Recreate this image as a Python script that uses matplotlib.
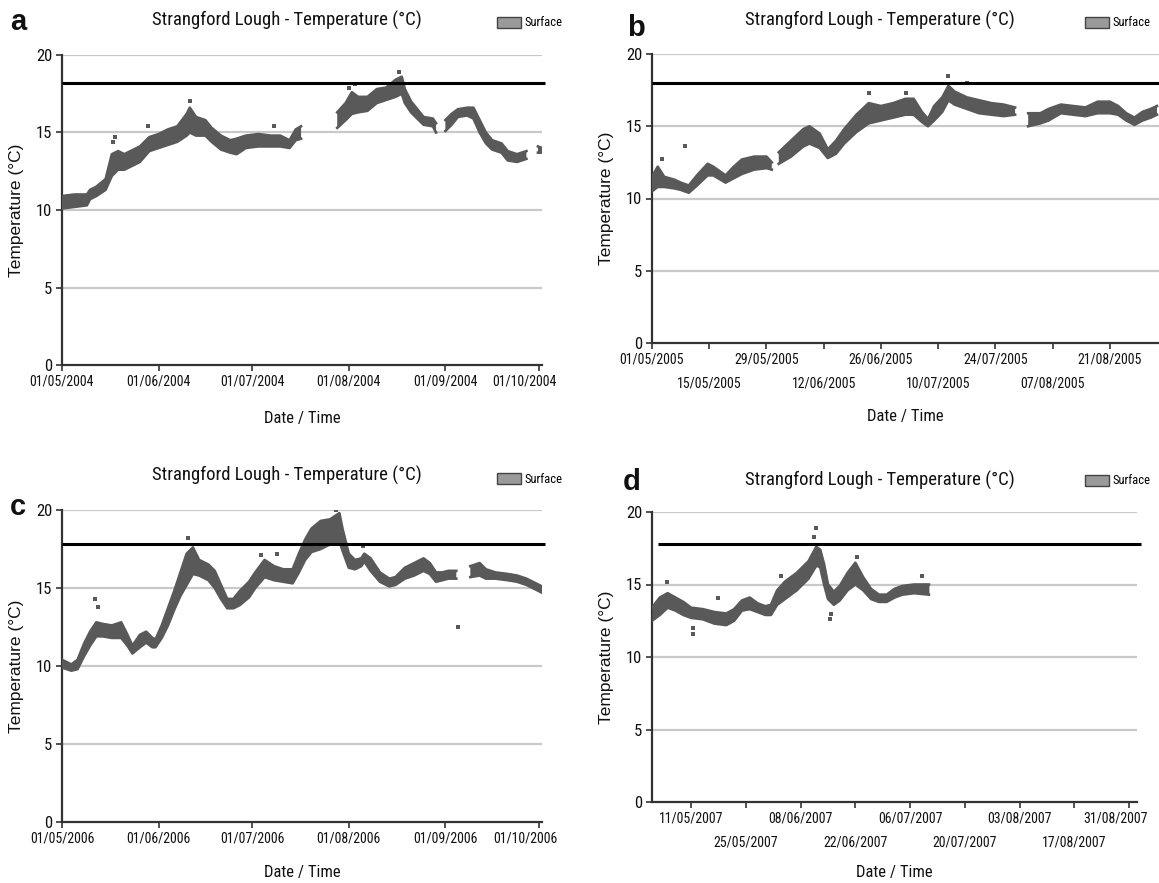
import numpy as np
import matplotlib
matplotlib.use("Agg")
import matplotlib.pyplot as plt
import matplotlib.transforms as mtransforms
from matplotlib.patches import Patch
from matplotlib import font_manager

# ---------------------------------------------------------------------------
# Surface temperature records, Strangford Lough (day offset from 1 May,
# lower / upper edge of the logged readings, NaN marks a logging gap)
# ---------------------------------------------------------------------------
days_2004 = [0, 4, 8, 9, 11, 14, 16, 18, 20, 22, 25, 28, 31, 34, 37, 40, 41, 43, 46, 48,
             51, 54, 56, 59, 63, 67, 70, 73, 75, 76.7, 82,
             88.3, 91, 93, 95, 98, 101, 104, 107, 109, 110, 112, 114, 116, 119, 120, 121.5,
             123, 125, 127, 130, 132, 134, 136, 138, 141, 143, 146, 149, 151,
             152.7, 154]
low_2004 = [10.1, 10.2, 10.3, 10.7, 10.9, 11.3, 12.2, 12.6, 12.6, 12.8, 13.1, 13.8, 14.0, 14.2, 14.4, 14.8, 15.0, 14.8, 14.8, 14.4,
            13.9, 13.7, 13.6, 14.0, 14.1, 14.1, 14.1, 14.0, 14.5, 14.6, np.nan,
            15.3, 15.8, 16.2, 16.3, 16.4, 16.9, 17.1, 17.3, 17.5, 16.9, 16.3, 15.9, 15.5, 15.4, 15.0, np.nan,
            15.1, 15.5, 16.0, 16.1, 15.9, 15.0, 14.3, 13.9, 13.7, 13.2, 13.1, 13.3, np.nan,
            13.7, 13.7]
high_2004 = [10.9, 11.0, 11.0, 11.3, 11.5, 12.0, 13.6, 13.8, 13.6, 13.8, 14.1, 14.7, 14.9, 15.2, 15.4, 16.2, 16.6, 16.0, 15.8, 15.3,
             14.8, 14.5, 14.6, 14.8, 14.9, 14.8, 14.8, 14.5, 15.2, 15.4, np.nan,
             16.3, 16.9, 17.6, 17.3, 17.3, 17.8, 17.9, 18.4, 18.6, 17.8, 17.0, 16.5, 16.0, 15.9, 15.6, np.nan,
             15.8, 16.2, 16.5, 16.6, 16.6, 15.8, 15.0, 14.5, 14.3, 13.8, 13.6, 13.8, np.nan,
             14.1, 14.0]
spike_days_2004 = [16.5, 17, 27.5, 41, 68, 92, 94, 108]
spike_temp_2004 = [14.4, 14.7, 15.4, 17.0, 15.4, 17.9, 18.1, 18.9]

days_2005 = [0, 1.4, 3, 5.5, 7, 9, 11, 13.6, 15, 18, 20, 22, 25, 28, 29.3, 30.2,
             31, 34, 37, 38.5, 41, 43, 45, 47, 50, 53, 56, 59, 62, 64, 66, 67.5, 69, 71, 72.5, 74,
             77, 80, 83, 86, 88.8, 90.5,
             92, 95, 97, 100, 103, 106, 109, 112, 114, 116, 118, 120, 122, 123.5]
low_2005 = [10.5, 10.8, 10.8, 10.7, 10.6, 10.4, 10.9, 11.6, 11.6, 11.1, 11.4, 11.7, 12.0, 12.1, 12.0, np.nan,
            12.4, 12.9, 13.6, 13.8, 13.5, 12.8, 13.1, 13.8, 14.6, 15.2, 15.4, 15.6, 15.8, 15.8, 15.3, 15.0, 15.4, 16.0, 16.8, 16.5,
            16.2, 15.9, 15.8, 15.7, 15.8, np.nan,
            15.0, 15.2, 15.4, 15.9, 15.8, 15.7, 15.9, 15.9, 15.8, 15.4, 15.1, 15.4, 15.6, 15.8]
high_2005 = [11.5, 12.2, 11.5, 11.3, 11.1, 10.9, 11.6, 12.4, 12.2, 11.6, 12.2, 12.7, 12.9, 12.9, 12.5, np.nan,
             13.2, 14.0, 14.8, 15.0, 14.5, 13.4, 14.0, 14.8, 15.8, 16.6, 16.4, 16.6, 16.9, 16.9, 16.0, 15.5, 16.4, 17.0, 17.8, 17.4,
             17.0, 16.8, 16.6, 16.5, 16.3, np.nan,
             15.9, 15.9, 16.2, 16.5, 16.4, 16.3, 16.7, 16.7, 16.4, 15.9, 15.6, 16.0, 16.2, 16.4]
spike_days_2005 = [2.5, 8, 53, 62, 72.5, 77]
spike_temp_2005 = [12.7, 13.6, 17.3, 17.3, 18.5, 18.0]

days_2006 = [0, 3, 5, 7, 9, 11, 13, 16, 19, 21, 22.6, 25, 27, 29, 30, 32, 34, 36, 38, 40,
             42, 44, 47, 49, 51, 53, 55, 57, 60, 62, 65, 68, 71, 74, 76, 78, 80, 83, 86, 89,
             90, 92, 94, 96, 97, 99, 102, 105, 107, 110, 113, 116, 118, 120, 122, 124, 126.5, 128.5,
             131, 134, 136, 139, 143, 146, 149, 152, 154]
low_2006 = [9.9, 9.7, 9.8, 10.6, 11.3, 11.9, 11.9, 11.8, 11.8, 11.3, 10.8, 11.2, 11.5, 11.2, 11.2, 11.8, 12.6, 13.6, 14.5, 15.2,
            15.9, 15.8, 15.5, 15.0, 14.3, 13.7, 13.7, 13.9, 14.4, 15.0, 15.7, 15.5, 15.4, 15.3, 16.0, 16.8, 17.3, 17.5, 17.8, 18.0,
            17.4, 16.3, 16.2, 16.4, 16.7, 16.1, 15.4, 15.1, 15.2, 15.6, 15.8, 16.1, 15.9, 15.4, 15.5, 15.6, 15.6, np.nan,
            15.7, 15.8, 15.6, 15.6, 15.5, 15.4, 15.2, 14.9, 14.7]
high_2006 = [10.4, 10.1, 10.4, 11.4, 12.2, 12.8, 12.7, 12.6, 12.8, 12.0, 11.3, 12.0, 12.2, 11.8, 11.7, 12.6, 13.7, 14.8, 16.0, 17.2,
             17.6, 16.8, 16.5, 16.1, 15.2, 14.3, 14.3, 14.8, 15.4, 16.0, 16.8, 16.4, 16.2, 16.2, 17.2, 18.1, 18.8, 19.3, 19.4, 19.8,
             18.8, 17.2, 16.8, 16.9, 17.2, 16.9, 16.0, 15.6, 15.7, 16.3, 16.6, 16.9, 16.6, 16.0, 16.0, 16.1, 16.1, np.nan,
             16.4, 16.6, 16.2, 16.0, 15.9, 15.8, 15.6, 15.3, 15.1]
spike_days_2006 = [10.7, 11.5, 40.5, 64, 69, 88, 96.5, 127]
spike_temp_2006 = [14.3, 13.8, 18.2, 17.1, 17.2, 20.0, 17.7, 12.5]

days_2007 = [0, 2, 4, 6, 8, 10, 13, 16, 19, 21, 23, 25, 27, 29, 30.4, 32, 34, 37, 40, 42,
             43, 44, 45, 46.5, 48, 50, 52, 54, 56, 58, 60, 62, 64, 67, 70.8]
low_2007 = [12.5, 12.9, 13.4, 13.2, 12.9, 12.7, 12.6, 12.3, 12.2, 12.5, 13.2, 13.3, 13.1, 12.9, 12.9, 13.6, 14.0, 14.6, 15.4, 16.3,
            16.2, 15.0, 14.0, 13.6, 13.9, 14.6, 15.0, 14.6, 14.0, 13.8, 13.8, 14.1, 14.3, 14.4, 14.3]
high_2007 = [13.4, 14.1, 14.4, 14.1, 13.8, 13.4, 13.3, 13.1, 13.0, 13.3, 13.9, 14.1, 13.7, 13.5, 13.6, 14.6, 15.2, 15.8, 16.6, 17.6,
             17.4, 16.4, 15.0, 14.5, 14.9, 15.8, 16.5, 15.5, 14.7, 14.3, 14.3, 14.7, 14.9, 15.0, 15.0]
spike_days_2007 = [3.8, 10.5, 10.5, 17, 33, 41.5, 42, 45.5, 45.8, 52.3, 69]
spike_temp_2007 = [15.2, 11.6, 12.0, 14.1, 15.6, 18.3, 18.9, 12.6, 13.0, 16.9, 15.6]

# reference temperature drawn as a horizontal bar on each panel
threshold = {"a": 18.2, "b": 18.0, "c": 17.8, "d": 17.8}

# x-axis tick positions (days from 1 May) and their labels
ticks_month = [0, 31, 61, 92, 123, 153]
labels_2004 = ["01/05/2004", "01/06/2004", "01/07/2004", "01/08/2004", "01/09/2004", "01/10/2004"]
labels_2006 = ["01/05/2006", "01/06/2006", "01/07/2006", "01/08/2006", "01/09/2006", "01/10/2006"]
ticks_2005 = [0, 14, 28, 42, 56, 70, 84, 98, 112]
labels_2005 = ["01/05/2005", "15/05/2005", "29/05/2005", "12/06/2005", "26/06/2005",
               "10/07/2005", "24/07/2005", "07/08/2005", "21/08/2005"]
ticks_2007 = [10, 24, 38, 52, 66, 80, 94, 108, 122]
labels_2007 = ["11/05/2007", "25/05/2007", "08/06/2007", "22/06/2007", "06/07/2007",
               "20/07/2007", "03/08/2007", "17/08/2007", "31/08/2007"]

TITLE = "Strangford Lough - Temperature (\u00b0C)"
DATA_COL = "#595959"
GRID_COL = "#c9c9c9"


# --- fonts: a condensed sans for the chart text, a regular sans for the y label
def _condensed_font():
    best = None
    for f in font_manager.fontManager.ttflist:
        stretch = f.stretch
        if isinstance(stretch, str):
            narrow = stretch in ("condensed", "semi-condensed", "extra-condensed", "ultra-condensed")
        else:
            narrow = stretch < 500
        narrow = narrow or "Narrow" in f.name or "Condensed" in f.name
        if not narrow or f.style != "normal":
            continue
        w = f.weight if isinstance(f.weight, int) else (700 if f.weight == "bold" else 400)
        if w != 400:
            continue
        pref = 0 if "Liberation" in f.name else (1 if "Roboto" in f.name else
                                                 (2 if "DejaVu" in f.name else 3))
        if best is None or pref < best[0]:
            best = (pref, f.fname)
    return best[1] if best else None


_cfile = _condensed_font()
if _cfile:
    def NF(size):
        return font_manager.FontProperties(fname=_cfile, size=size)
    SCALE = 1.0
else:
    def NF(size):
        return font_manager.FontProperties(family=["Liberation Sans", "DejaVu Sans"], size=size)
    SCALE = 0.85

WIDE = ["Liberation Sans", "DejaVu Sans"]

W, H = 1159, 883
fig = plt.figure(figsize=(W / 100, H / 100), dpi=100)
fig.patch.set_facecolor("white")


def add_axes_px(left, top, right, bottom):
    return fig.add_axes([left / W, 1 - bottom / H, (right - left) / W, (bottom - top) / H])


def draw_panel(ax, box, days, low, high, sdays, stemp, xmax, thr, thr_start,
               ticks, labels, stagger, xlabel_y, ylabel_x):
    left, top, right, bottom = box
    d = np.asarray(days, float)
    lo = np.asarray(low, float)
    hi = np.asarray(high, float)
    ax.fill_between(d, lo, hi, color=DATA_COL, lw=0, zorder=3)
    ax.plot(d, lo, color=DATA_COL, lw=1.9, zorder=3)
    ax.plot(d, hi, color=DATA_COL, lw=1.9, zorder=3)
    ax.scatter(sdays, stemp, s=5, marker="s", color=DATA_COL, lw=0, zorder=3)

    ax.set_xlim(0, xmax)
    ax.set_ylim(0, 20)
    for yv in [5, 10, 15, 20]:
        ax.axhline(yv, color=GRID_COL, lw=1.6, zorder=1)
    ax.hlines(thr, thr_start, xmax + 1, color="black", lw=2.2, zorder=4, clip_on=False)

    tick_font = NF(10 * SCALE)
    if stagger:
        # alternate labels drop to a second row
        ax.set_xticks(ticks[0::2])
        ax.set_xticklabels(labels[0::2], fontproperties=tick_font)
        ax.set_xticks(ticks[1::2], minor=True)
        ax.set_xticklabels(labels[1::2], minor=True, fontproperties=tick_font)
        ax.tick_params(axis="x", which="minor", direction="out", length=4, width=1.2,
                       color="#333333", pad=20, labelcolor="#111111")
    else:
        ax.set_xticks(ticks)
        ax.set_xticklabels(labels, fontproperties=tick_font)
    ax.set_yticks([0, 5, 10, 15, 20])
    ax.set_yticklabels(["0", "5", "10", "15", "20"], fontproperties=NF(12 * SCALE))
    ax.tick_params(axis="both", which="major", direction="out", length=4, width=1.2,
                   color="#333333", pad=3, labelcolor="#111111")
    for side in ["top", "right"]:
        ax.spines[side].set_visible(False)
    for side in ["left", "bottom"]:
        ax.spines[side].set_linewidth(1.6)
        ax.spines[side].set_color("#333333")

    ax.set_ylabel("Temperature (\u00b0C)", fontfamily=WIDE, fontsize=12.5, color="#111111")
    ax.yaxis.set_label_coords((ylabel_x - left) / (right - left), 0.5)
    ax.yaxis.label.set_va("center")
    ax.set_xlabel("Date / Time", fontproperties=NF(12 * SCALE), color="#111111")
    ax.xaxis.set_label_coords(0.5, (bottom - xlabel_y) / (bottom - top))
    ax.xaxis.label.set_va("center")
    ax.set_facecolor("white")
    return ax


box_a = (62, 55, 542, 365)
box_b = (652, 54, 1159, 343)
box_c = (62, 510, 542, 822)
box_d = (652, 512, 1137, 802)
ax_a = add_axes_px(*box_a)
ax_b = add_axes_px(*box_b)
ax_c = add_axes_px(*box_c)
ax_d = add_axes_px(*box_d)

draw_panel(ax_a, box_a, days_2004, low_2004, high_2004, spike_days_2004, spike_temp_2004,
           154, threshold["a"], 0, ticks_month, labels_2004, False, 418, 17)
draw_panel(ax_b, box_b, days_2005, low_2005, high_2005, spike_days_2005, spike_temp_2005,
           124, threshold["b"], 0, ticks_2005, labels_2005, True, 417, 607)
draw_panel(ax_c, box_c, days_2006, low_2006, high_2006, spike_days_2006, spike_temp_2006,
           154, threshold["c"], 0, ticks_month, labels_2006, False, 873, 17)
draw_panel(ax_d, box_d, days_2007, low_2007, high_2007, spike_days_2007, spike_temp_2007,
           124, threshold["d"], 1.5, ticks_2007, labels_2007, True, 873, 607)

# the last date label is nudged back towards the plotting area
nudge = mtransforms.ScaledTranslation(-14 / 100, 0, fig.dpi_scale_trans)
for ax in (ax_a, ax_c, ax_d):
    lab = ax.get_xticklabels()[-1]
    lab.set_transform(lab.get_transform() + nudge)

# panel titles, letters and legends (positions in pixels from the top-left corner)
for letter, (tx, ty), (lx, ly), (gx, gy) in [
        ("a", (287, 20), (18, 22), (497, 23)),
        ("b", (880, 20), (636, 28), (1085, 23)),
        ("c", (287, 475), (18, 507), (497, 479)),
        ("d", (880, 480), (632, 482), (1085, 481))]:
    fig.text(tx / W, 1 - ty / H, TITLE, ha="center", va="center",
             fontproperties=NF(13.5 * SCALE), color="#111111")
    fig.text(lx / W, 1 - ly / H, letter, ha="center", va="center",
             fontfamily=WIDE, fontsize=21, fontweight="bold", color="#111111")
    fig.legend(handles=[Patch(facecolor="#9a9a9a", edgecolor="#444444", lw=1.0)],
               labels=["Surface"], loc="center left",
               bbox_to_anchor=(gx / W, 1 - gy / H), frameon=False,
               prop=NF(9 * SCALE),
               handlelength=1.9, handleheight=1.0, handletextpad=0.3,
               borderaxespad=0, borderpad=0)

fig.savefig("out.png", dpi=100, facecolor="white")
